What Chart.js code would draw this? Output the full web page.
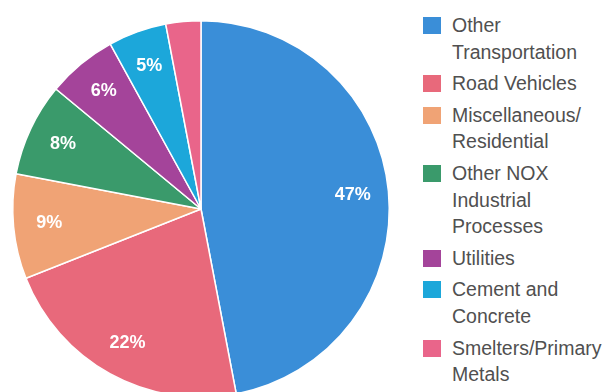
<!DOCTYPE html>
<html>
<head>
<meta charset="utf-8">
<script src="https://cdn.jsdelivr.net/npm/chart.js@4/dist/chart.umd.min.js"></script>
<style>
    html, body { margin: 0; padding: 0; background: #fff; overflow: hidden; }
    body { width: 608px; height: 392px; position: relative; font-family: "Liberation Sans", Arial, sans-serif; }
    #pieWrap { position: absolute; left: 0; top: 0; width: 400px; height: 420px; }
    #legend { position: absolute; left: 423px; top: 12px; margin: 0; padding: 0; list-style: none; }
    #legend li { position: relative; padding-left: 29px; margin-bottom: 5px; font-size: 19.5px; line-height: 26.6px; color: #505050; }
    #legend li span.box { position: absolute; left: 0; top: 5px; width: 18px; height: 17px; }
</style>
</head>
<body>
<div id="pieWrap"><canvas id="pieChart"></canvas></div>
<ul id="legend"></ul>
<script>
// NOx emission sources, share of total (%)
const labels = [
    ['Other', 'Transportation'],
    ['Road Vehicles'],
    ['Miscellaneous/', 'Residential'],
    ['Other NOX', 'Industrial', 'Processes'],
    ['Utilities'],
    ['Cement and', 'Concrete'],
    ['Smelters/Primary', 'Metals']
];
const shares = [47, 22, 9, 8, 6, 5, 3];
const colors = ['#3a8ed8', '#e8697b', '#f0a375', '#3a9a6b', '#a4449a', '#1ca7da', '#e9658a'];

// white percentage labels inside the bigger slices
const sliceLabels = {
    id: 'sliceLabels',
    afterDatasetsDraw(chart) {
        const ctx = chart.ctx;
        const meta = chart.getDatasetMeta(0);
        ctx.save();
        ctx.fillStyle = '#fff';
        ctx.font = 'bold 18px "Liberation Sans", Arial, sans-serif';
        ctx.textAlign = 'center';
        ctx.textBaseline = 'middle';
        meta.data.forEach((arc, i) => {
            const v = shares[i];
            if (v < 4) return;
            const p = arc.getProps(['x', 'y', 'startAngle', 'endAngle', 'outerRadius'], true);
            const mid = (p.startAngle + p.endAngle) / 2;
            const r = p.outerRadius * 0.81;
            ctx.fillText(v + '%', p.x + Math.cos(mid) * r, p.y + Math.sin(mid) * r);
        });
        ctx.restore();
    }
};

const chart = new Chart(document.getElementById('pieChart'), {
    type: 'pie',
    data: {
        labels: labels,
        datasets: [{
            data: shares,
            backgroundColor: colors,
            borderColor: '#fff',
            borderWidth: 1.5
        }]
    },
    options: {
        responsive: true,
        maintainAspectRatio: false,
        animation: false,
        layout: { padding: { left: 12, top: 20, right: 10, bottom: 22 } },
        plugins: {
            legend: { display: false },
            tooltip: { enabled: false }
        }
    },
    plugins: [sliceLabels]
});

// legend list
const legendEl = document.getElementById('legend');
labels.forEach((lines, i) => {
    const li = document.createElement('li');
    const box = document.createElement('span');
    box.className = 'box';
    box.style.background = colors[i];
    li.appendChild(box);
    li.appendChild(document.createTextNode(lines[0]));
    for (let k = 1; k < lines.length; k++) {
        li.appendChild(document.createElement('br'));
        li.appendChild(document.createTextNode(lines[k]));
    }
    legendEl.appendChild(li);
});
</script>
</body>
</html>
